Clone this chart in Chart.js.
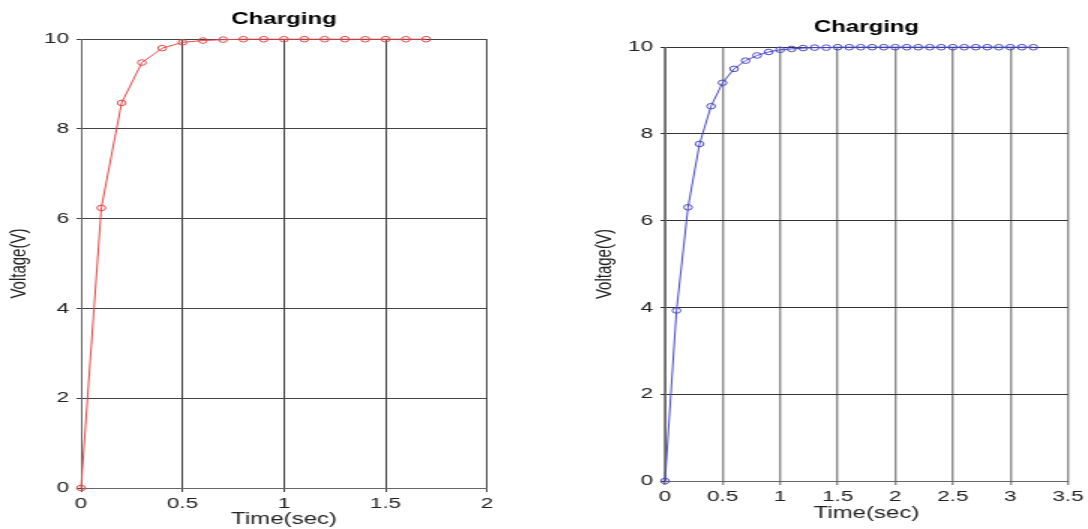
<!DOCTYPE html>
<html>
<head>
<meta charset="utf-8">
<script src="https://cdn.jsdelivr.net/npm/chart.js@4/dist/chart.umd.min.js"></script>
<style>
  html, body { margin: 0; padding: 0; background: #fff; }
  body { width: 1088px; height: 529px; position: relative; overflow: hidden; }
  /* the reference picture is stretched horizontally by about 1.5x */
  .box { position: absolute; top: 0; height: 529px; transform: scaleX(1.5); transform-origin: 0 0; }
  #b1 { left: 0; width: 360px; }
  #b2 { left: 560px; width: 352px; }
</style>
</head>
<body>
<div class="box" id="b1"><canvas id="c1" width="360" height="529"></canvas></div>
<div class="box" id="b2"><canvas id="c2" width="352" height="529"></canvas></div>
<script>
// ---- Data ----
const chartTitle = "Charging";
const xAxisLabel = "Time(sec)";
const yAxisLabel = "Voltage(V)";

const timesLeft = [0, 0.1, 0.2, 0.3, 0.4, 0.5, 0.6, 0.7, 0.8, 0.9, 1.0, 1.1, 1.2, 1.3, 1.4, 1.5, 1.6, 1.7];
const voltsLeft = [0, 6.24, 8.58, 9.48, 9.8, 9.93, 9.97, 9.99, 10, 10, 10, 10, 10, 10, 10, 10, 10, 10];

const timesRight = [0, 0.1, 0.2, 0.3, 0.4, 0.5, 0.6, 0.7, 0.8, 0.9, 1.0, 1.1, 1.2, 1.3, 1.4, 1.5, 1.6,
                    1.7, 1.8, 1.9, 2.0, 2.1, 2.2, 2.3, 2.4, 2.5, 2.6, 2.7, 2.8, 2.9, 3.0, 3.1, 3.2];
const voltsRight = [0, 3.93, 6.31, 7.77, 8.64, 9.18, 9.5, 9.69, 9.81, 9.89, 9.94, 9.96, 9.98, 9.99, 9.99, 10, 10,
                    10, 10, 10, 10, 10, 10, 10, 10, 10, 10, 10, 10, 10, 10, 10, 10];

const yTicksMax = 10, yStep = 2;
const xMaxLeft = 2, xMaxRight = 3.5, xStep = 0.5;

// ---- Rendering ----
Chart.defaults.font.family = "'Liberation Sans', Arial, Helvetica, sans-serif";
Chart.defaults.color = "#222";

function makeChart(id, times, volts, xMax, color, geo) {
  const pts = times.map((t, i) => ({ x: t, y: volts[i] }));
  return new Chart(document.getElementById(id), {
    type: 'line',
    data: {
      datasets: [{
        data: pts,
        borderColor: color,
        borderWidth: 1,
        backgroundColor: 'rgba(255,255,255,0)',
        pointStyle: 'circle',
        pointRadius: 2.8,
        pointBorderWidth: 1,
        pointBorderColor: color,
        pointBackgroundColor: 'rgba(255,255,255,0)',
        tension: 0,
        clip: false
      }]
    },
    options: {
      responsive: false,
      animation: false,
      events: [],
      layout: { padding: { left: 0, right: geo.padRight, top: 0, bottom: 0 } },
      plugins: {
        legend: { display: false },
        tooltip: { enabled: false },
        title: {
          display: true,
          fullSize: false,
          text: chartTitle,
          color: '#000',
          font: { size: 16, weight: 'bold' },
          padding: { top: geo.titleTop, bottom: 10 }
        }
      },
      scales: {
        x: {
          type: 'linear',
          min: 0, max: xMax,
          afterFit: s => { s.height = geo.xHeight; },
          ticks: { stepSize: xStep, font: { size: 15 }, padding: 3, color: '#222', maxRotation: 0,
                   callback: v => String(v) },
          grid: { color: geo.vGrid, lineWidth: geo.vGridW, tickLength: 4, drawTicks: true },
          border: { color: '#666', width: 1 },
          title: { display: true, text: xAxisLabel, font: { size: 16 }, color: '#222', padding: { top: 0, bottom: geo.xTitlePad } }
        },
        y: {
          min: 0, max: yTicksMax,
          afterFit: s => { s.width = geo.yWidth; },
          ticks: { stepSize: yStep, font: { size: 15 }, padding: 5, color: '#222',
                   callback: v => String(v) },
          grid: { color: geo.hGrid, lineWidth: 1, tickLength: 3 },
          border: { color: '#666', width: 1 },
          title: { display: true, text: yAxisLabel, font: { size: 15 }, color: '#222', padding: { top: geo.yTitlePad, bottom: 0 } }
        }
      }
    }
  });
}

makeChart('c1', timesLeft, voltsLeft, xMaxLeft, '#e44848', {
  padRight: 35.3, titleTop: 10, xHeight: 41, yWidth: 54, xTitlePad: 0, yTitlePad: 4,
  vGrid: '#444', vGridW: 1, hGrid: '#444'
});
makeChart('c2', timesRight, voltsRight, xMaxRight, '#4a4ac8', {
  padRight: 12, titleTop: 18, xHeight: 48, yWidth: 70, xTitlePad: 6, yTitlePad: 21,
  vGrid: '#8a8a8a', vGridW: 1.4, hGrid: '#333'
});
</script>
</body>
</html>
